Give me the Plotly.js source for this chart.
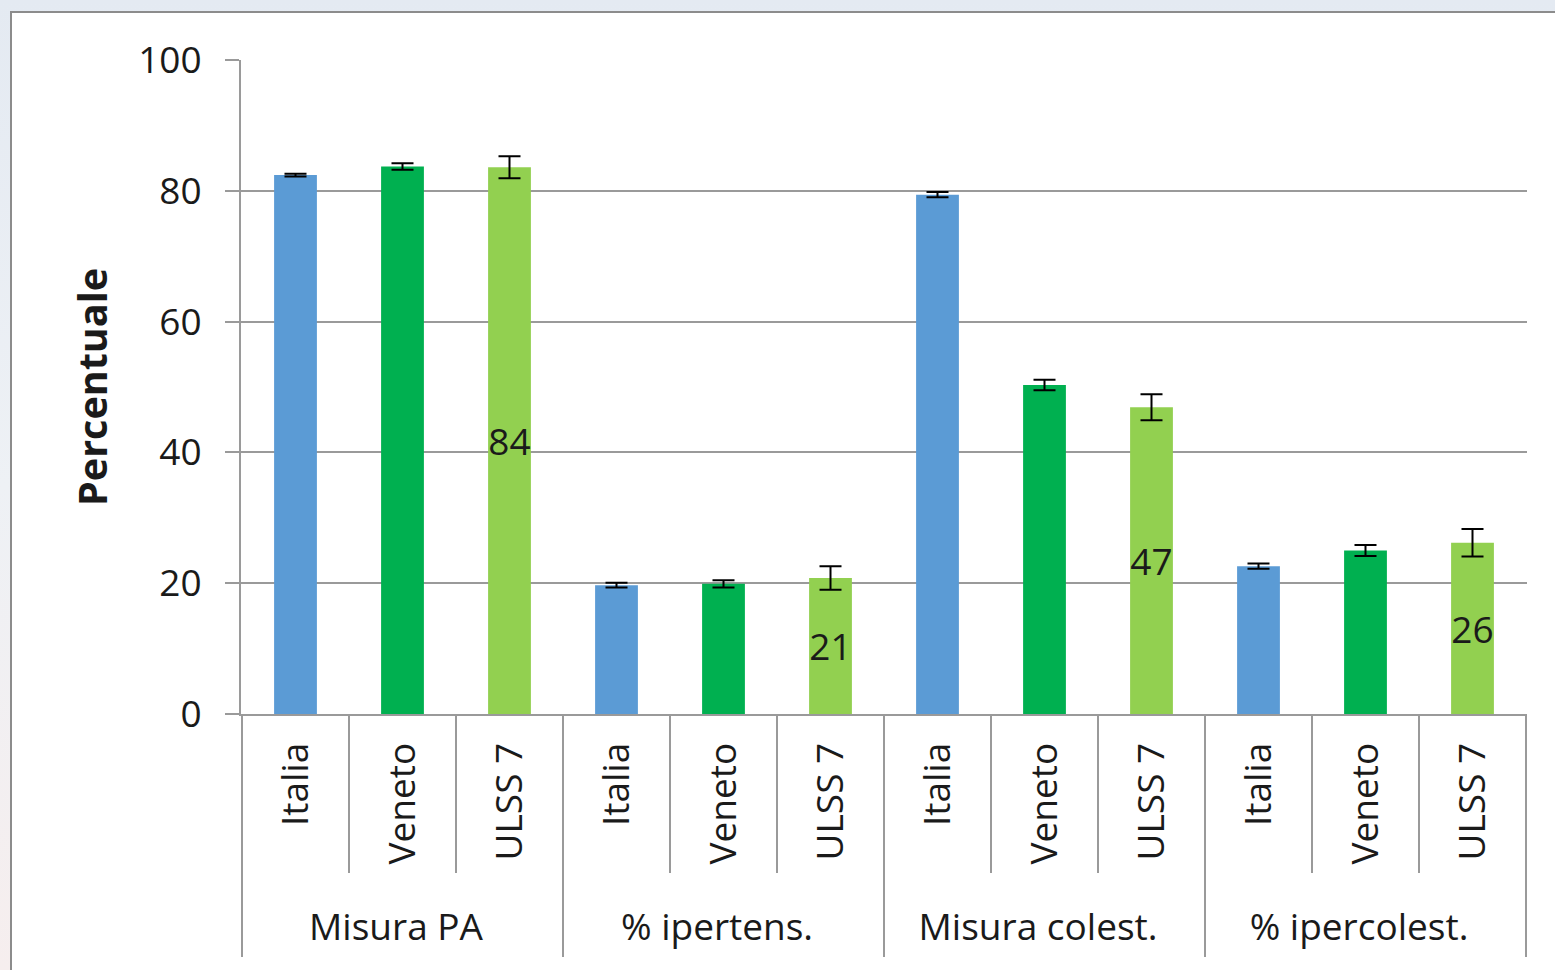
<!DOCTYPE html>
<html>
<head>
<meta charset="utf-8">
<script src="https://cdn.plot.ly/plotly-3.0.1.min.js"></script>
<style>
  html, body { margin:0; padding:0; width:1555px; height:970px; overflow:hidden;
    background: linear-gradient(180deg, #e4eaf2 0%, #eef1f5 50%, #f6eeee 100%); }
  #chart { position:absolute; left:10px; top:11px; width:1570px; height:975px;
    background:#ffffff; border:2px solid #8c8c8c; box-sizing:border-box; }
</style>
</head>
<body>
<div id="chart"></div>
<script>
// ---- data ----
var groups = ["Misura PA", "% ipertens.", "Misura colest.", "% ipercolest."];
var areas = ["Italia", "Veneto", "ULSS 7"];
var italia = [82.4, 19.7, 79.4, 22.6];
var veneto = [83.7, 19.9, 50.3, 25.0];
var ulss7  = [83.6, 20.8, 46.9, 26.2];
var italiaErr = [0.2, 0.35, 0.4, 0.4];
var venetoErr = [0.5, 0.55, 0.8, 0.85];
var ulss7Err  = [1.7, 1.8, 2.0, 2.1];
var ulss7Labels = ["84", "21", "47", "26"];
var yTicks = [0, 20, 40, 60, 80, 100];

var colors = ["#5b9bd5", "#00b050", "#92d050"];
var FONT = "Open Sans, Noto Sans, sans-serif";
var FS = 37;
// leading non-breaking spaces only deepen the rotated label box,
// which pushes the group-level labels a little further down (as in the original)
var PAD = "\u00a0\u00a0";

function xFor(areaName) {
  return [groups.slice(), groups.map(function(){ return PAD + areaName; })];
}

var allVals = [italia, veneto, ulss7];
var allErrs = [italiaErr, venetoErr, ulss7Err];

var traces = areas.map(function(a, i) {
  var t = {
    type: "bar",
    name: a,
    x: xFor(a),
    y: allVals[i],
    marker: { color: colors[i], line: { width: 0 } },
    error_y: { type: "data", array: allErrs[i], visible: true,
               color: "#000000", thickness: 2, width: 11 },
    showlegend: false,
    hoverinfo: "y"
  };
  if (a === "ULSS 7") {
    t.text = ulss7Labels;
    t.textposition = "inside";
    t.insidetextanchor = "middle";
    t.textangle = 0;
    t.constraintext = "none";
    t.textfont = { family: FONT, size: FS, color: "#1a1a1a" };
  }
  return t;
});

// divider lines below the category axis (between sub-categories and groups)
var shapes = [];
var nCats = groups.length * areas.length;
for (var k = 0; k <= nCats; k++) {
  var pos = k - 0.5;
  var outer = (k % areas.length === 0);
  shapes.push({
    type: "line", xref: "x", yref: "paper",
    x0: pos, x1: pos, y0: 0, y1: outer ? -0.3716 : -0.243,
    line: { color: "#9a9a9a", width: 2 }
  });
}

var layout = {
  width: 1566, height: 971,
  margin: { l: 229, r: 51, t: 47, b: 270, autoexpand: false },
  paper_bgcolor: "rgba(0,0,0,0)",
  plot_bgcolor: "#ffffff",
  font: { family: FONT, size: FS, color: "#1a1a1a" },
  barmode: "overlay",
  bargap: 0.6,
  xaxis: {
    type: "multicategory",
    showdividers: false,
    tickangle: -90,
    ticks: "",
    ticklabelstandoff: 12,
    showline: true, linecolor: "#9a9a9a", linewidth: 2,
    showgrid: false,
    automargin: false,
    tickfont: { family: FONT, size: FS, color: "#1a1a1a" },
    fixedrange: true
  },
  yaxis: {
    range: [0, 100],
    tickvals: yTicks,
    ticks: "outside", ticklen: 14, tickcolor: "#9a9a9a", tickwidth: 2,
    ticklabelstandoff: 16,
    showline: true, linecolor: "#9a9a9a", linewidth: 2,
    showgrid: true, gridcolor: "#9a9a9a", gridwidth: 2,
    zeroline: false,
    automargin: false,
    tickfont: { family: FONT, size: FS, color: "#1a1a1a" },
    title: { text: "<b>Percentuale</b>", standoff: 18,
             font: { family: FONT, size: 39.5, color: "#1a1a1a" } },
    fixedrange: true
  },
  shapes: shapes
};

Plotly.newPlot("chart", traces, layout, { displayModeBar: false, staticPlot: true });
</script>
</body>
</html>
